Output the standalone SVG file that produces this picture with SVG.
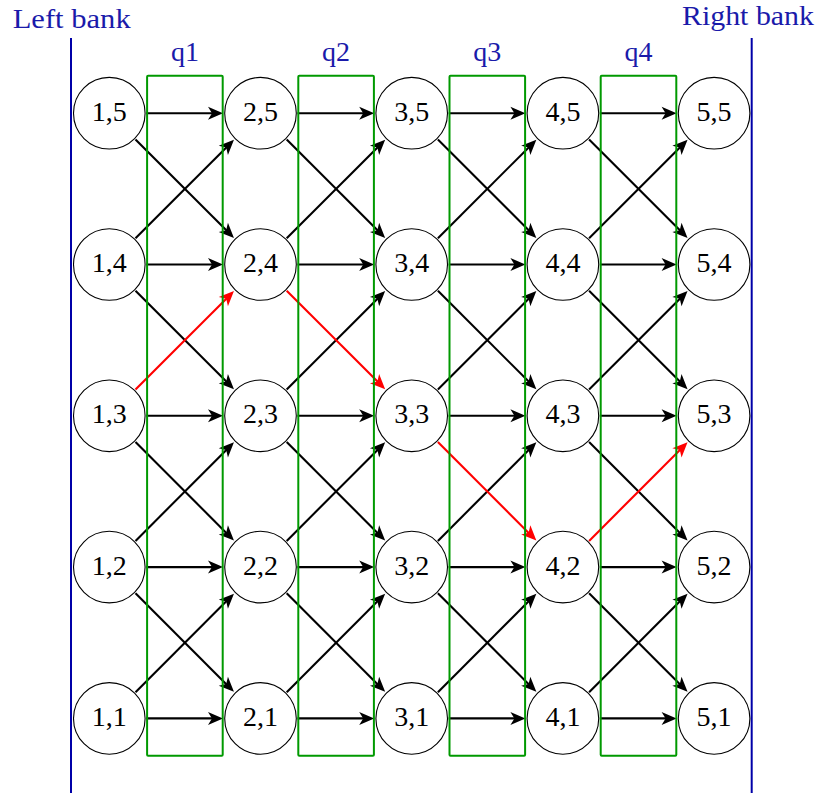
<svg xmlns="http://www.w3.org/2000/svg" width="828" height="795" viewBox="0 0 828 795">
<style>
.node circle{fill:#fff;stroke:#000;stroke-width:1.1}
.node text{font-family:"Liberation Serif","Times New Roman",serif;font-size:28px;text-anchor:middle;fill:#000}
.edge{stroke:#000;stroke-width:2.1;fill:none;marker-end:url(#ah)}
.red{stroke:#f00;stroke-width:2.1;fill:none;marker-end:url(#ahr)}
.box{fill:none;stroke:#009900;stroke-width:2}
.bank{stroke:#0000a8;stroke-width:2}
.lbl{font-family:"Liberation Serif","Times New Roman",serif;font-size:28px;text-anchor:middle;fill:#1a1aaa}
</style>
<defs>
<marker id="ah" markerUnits="userSpaceOnUse" viewBox="-10 -10 20 20" markerWidth="20" markerHeight="20" refX="0" refY="0" orient="auto" overflow="visible">
<path d="M8,0 L-7,-6.5 L-3,0 L-7,6.5 Z" fill="#000"/>
</marker>
<marker id="ahr" markerUnits="userSpaceOnUse" viewBox="-10 -10 20 20" markerWidth="20" markerHeight="20" refX="0" refY="0" orient="auto" overflow="visible">
<path d="M8,0 L-7,-6.5 L-3,0 L-7,6.5 Z" fill="#f00"/>
</marker>
</defs>
<g id="banks">
<line class="bank" x1="71" y1="38" x2="71" y2="793"/>
<line class="bank" x1="751.7" y1="38" x2="751.7" y2="793"/>
<text class="lbl" x="71.7" y="27.5" font-size="27" textLength="118" lengthAdjust="spacingAndGlyphs">Left bank</text>
<text class="lbl" x="748" y="24.5" font-size="26" textLength="132" lengthAdjust="spacingAndGlyphs">Right bank</text>
</g>
<g id="connectors">
<line class="edge" x1="146.3" y1="113.2" x2="215" y2="113.2"/>
<line class="edge" x1="297.5" y1="113.2" x2="366.2" y2="113.2"/>
<line class="edge" x1="448.7" y1="113.2" x2="517.4" y2="113.2"/>
<line class="edge" x1="599.9" y1="113.2" x2="668.6" y2="113.2"/>
<line class="edge" x1="146.3" y1="264.5" x2="215" y2="264.5"/>
<line class="edge" x1="297.5" y1="264.5" x2="366.2" y2="264.5"/>
<line class="edge" x1="448.7" y1="264.5" x2="517.4" y2="264.5"/>
<line class="edge" x1="599.9" y1="264.5" x2="668.6" y2="264.5"/>
<line class="edge" x1="146.3" y1="415.8" x2="215" y2="415.8"/>
<line class="edge" x1="297.5" y1="415.8" x2="366.2" y2="415.8"/>
<line class="edge" x1="448.7" y1="415.8" x2="517.4" y2="415.8"/>
<line class="edge" x1="599.9" y1="415.8" x2="668.6" y2="415.8"/>
<line class="edge" x1="146.3" y1="567.1" x2="215" y2="567.1"/>
<line class="edge" x1="297.5" y1="567.1" x2="366.2" y2="567.1"/>
<line class="edge" x1="448.7" y1="567.1" x2="517.4" y2="567.1"/>
<line class="edge" x1="599.9" y1="567.1" x2="668.6" y2="567.1"/>
<line class="edge" x1="146.3" y1="718.4" x2="215" y2="718.4"/>
<line class="edge" x1="297.5" y1="718.4" x2="366.2" y2="718.4"/>
<line class="edge" x1="448.7" y1="718.4" x2="517.4" y2="718.4"/>
<line class="edge" x1="599.9" y1="718.4" x2="668.6" y2="718.4"/>
<line class="edge" x1="135.5" y1="692.2" x2="228.3" y2="599.3"/>
<line class="edge" x1="135.5" y1="540.9" x2="228.3" y2="448"/>
<line class="edge" x1="135.5" y1="238.3" x2="228.3" y2="145.4"/>
<line class="edge" x1="135.5" y1="139.4" x2="228.3" y2="232.3"/>
<line class="edge" x1="135.5" y1="290.7" x2="228.3" y2="383.6"/>
<line class="edge" x1="135.5" y1="442" x2="228.3" y2="534.9"/>
<line class="edge" x1="135.5" y1="593.3" x2="228.3" y2="686.2"/>
<line class="edge" x1="286.7" y1="692.2" x2="379.5" y2="599.3"/>
<line class="edge" x1="286.7" y1="540.9" x2="379.5" y2="448"/>
<line class="edge" x1="286.7" y1="389.6" x2="379.5" y2="296.7"/>
<line class="edge" x1="286.7" y1="238.3" x2="379.5" y2="145.4"/>
<line class="edge" x1="286.7" y1="139.4" x2="379.5" y2="232.3"/>
<line class="edge" x1="286.7" y1="442" x2="379.5" y2="534.9"/>
<line class="edge" x1="286.7" y1="593.3" x2="379.5" y2="686.2"/>
<line class="edge" x1="437.9" y1="692.2" x2="530.7" y2="599.3"/>
<line class="edge" x1="437.9" y1="540.9" x2="530.7" y2="448"/>
<line class="edge" x1="437.9" y1="389.6" x2="530.7" y2="296.7"/>
<line class="edge" x1="437.9" y1="238.3" x2="530.7" y2="145.4"/>
<line class="edge" x1="437.9" y1="139.4" x2="530.7" y2="232.3"/>
<line class="edge" x1="437.9" y1="290.7" x2="530.7" y2="383.6"/>
<line class="edge" x1="437.9" y1="593.3" x2="530.7" y2="686.2"/>
<line class="edge" x1="589.1" y1="692.2" x2="681.9" y2="599.3"/>
<line class="edge" x1="589.1" y1="389.6" x2="681.9" y2="296.7"/>
<line class="edge" x1="589.1" y1="238.3" x2="681.9" y2="145.4"/>
<line class="edge" x1="589.1" y1="139.4" x2="681.9" y2="232.3"/>
<line class="edge" x1="589.1" y1="290.7" x2="681.9" y2="383.6"/>
<line class="edge" x1="589.1" y1="442" x2="681.9" y2="534.9"/>
<line class="edge" x1="589.1" y1="593.3" x2="681.9" y2="686.2"/>
<line class="red" x1="135.5" y1="389.6" x2="228.3" y2="296.7"/>
<line class="red" x1="286.7" y1="290.7" x2="379.5" y2="383.6"/>
<line class="red" x1="437.9" y1="442" x2="530.7" y2="534.9"/>
<line class="red" x1="589.1" y1="540.9" x2="681.9" y2="448"/>
</g>
<g id="quarters">
<rect class="box" x="147.1" y="75.7" width="75.6" height="680" rx="1"/>
<rect class="box" x="298.3" y="75.7" width="75.6" height="680" rx="1"/>
<rect class="box" x="449.5" y="75.7" width="75.6" height="680" rx="1"/>
<rect class="box" x="600.7" y="75.7" width="75.6" height="680" rx="1"/>
<text class="lbl" x="184.9" y="61">q1</text>
<text class="lbl" x="336.1" y="61">q2</text>
<text class="lbl" x="487.3" y="61">q3</text>
<text class="lbl" x="638.5" y="61">q4</text>
</g>
<g id="n1_5" class="node"><circle cx="109.3" cy="113.2" r="35.8"/><text x="109.3" y="120.8">1,5</text></g>
<g id="n1_4" class="node"><circle cx="109.3" cy="264.5" r="35.8"/><text x="109.3" y="272.1">1,4</text></g>
<g id="n1_3" class="node"><circle cx="109.3" cy="415.8" r="35.8"/><text x="109.3" y="423.4">1,3</text></g>
<g id="n1_2" class="node"><circle cx="109.3" cy="567.1" r="35.8"/><text x="109.3" y="574.7">1,2</text></g>
<g id="n1_1" class="node"><circle cx="109.3" cy="718.4" r="35.8"/><text x="109.3" y="726">1,1</text></g>
<g id="n2_5" class="node"><circle cx="260.5" cy="113.2" r="35.8"/><text x="260.5" y="120.8">2,5</text></g>
<g id="n2_4" class="node"><circle cx="260.5" cy="264.5" r="35.8"/><text x="260.5" y="272.1">2,4</text></g>
<g id="n2_3" class="node"><circle cx="260.5" cy="415.8" r="35.8"/><text x="260.5" y="423.4">2,3</text></g>
<g id="n2_2" class="node"><circle cx="260.5" cy="567.1" r="35.8"/><text x="260.5" y="574.7">2,2</text></g>
<g id="n2_1" class="node"><circle cx="260.5" cy="718.4" r="35.8"/><text x="260.5" y="726">2,1</text></g>
<g id="n3_5" class="node"><circle cx="411.7" cy="113.2" r="35.8"/><text x="411.7" y="120.8">3,5</text></g>
<g id="n3_4" class="node"><circle cx="411.7" cy="264.5" r="35.8"/><text x="411.7" y="272.1">3,4</text></g>
<g id="n3_3" class="node"><circle cx="411.7" cy="415.8" r="35.8"/><text x="411.7" y="423.4">3,3</text></g>
<g id="n3_2" class="node"><circle cx="411.7" cy="567.1" r="35.8"/><text x="411.7" y="574.7">3,2</text></g>
<g id="n3_1" class="node"><circle cx="411.7" cy="718.4" r="35.8"/><text x="411.7" y="726">3,1</text></g>
<g id="n4_5" class="node"><circle cx="562.9" cy="113.2" r="35.8"/><text x="562.9" y="120.8">4,5</text></g>
<g id="n4_4" class="node"><circle cx="562.9" cy="264.5" r="35.8"/><text x="562.9" y="272.1">4,4</text></g>
<g id="n4_3" class="node"><circle cx="562.9" cy="415.8" r="35.8"/><text x="562.9" y="423.4">4,3</text></g>
<g id="n4_2" class="node"><circle cx="562.9" cy="567.1" r="35.8"/><text x="562.9" y="574.7">4,2</text></g>
<g id="n4_1" class="node"><circle cx="562.9" cy="718.4" r="35.8"/><text x="562.9" y="726">4,1</text></g>
<g id="n5_5" class="node"><circle cx="714.1" cy="113.2" r="35.8"/><text x="714.1" y="120.8">5,5</text></g>
<g id="n5_4" class="node"><circle cx="714.1" cy="264.5" r="35.8"/><text x="714.1" y="272.1">5,4</text></g>
<g id="n5_3" class="node"><circle cx="714.1" cy="415.8" r="35.8"/><text x="714.1" y="423.4">5,3</text></g>
<g id="n5_2" class="node"><circle cx="714.1" cy="567.1" r="35.8"/><text x="714.1" y="574.7">5,2</text></g>
<g id="n5_1" class="node"><circle cx="714.1" cy="718.4" r="35.8"/><text x="714.1" y="726">5,1</text></g>
</svg>
